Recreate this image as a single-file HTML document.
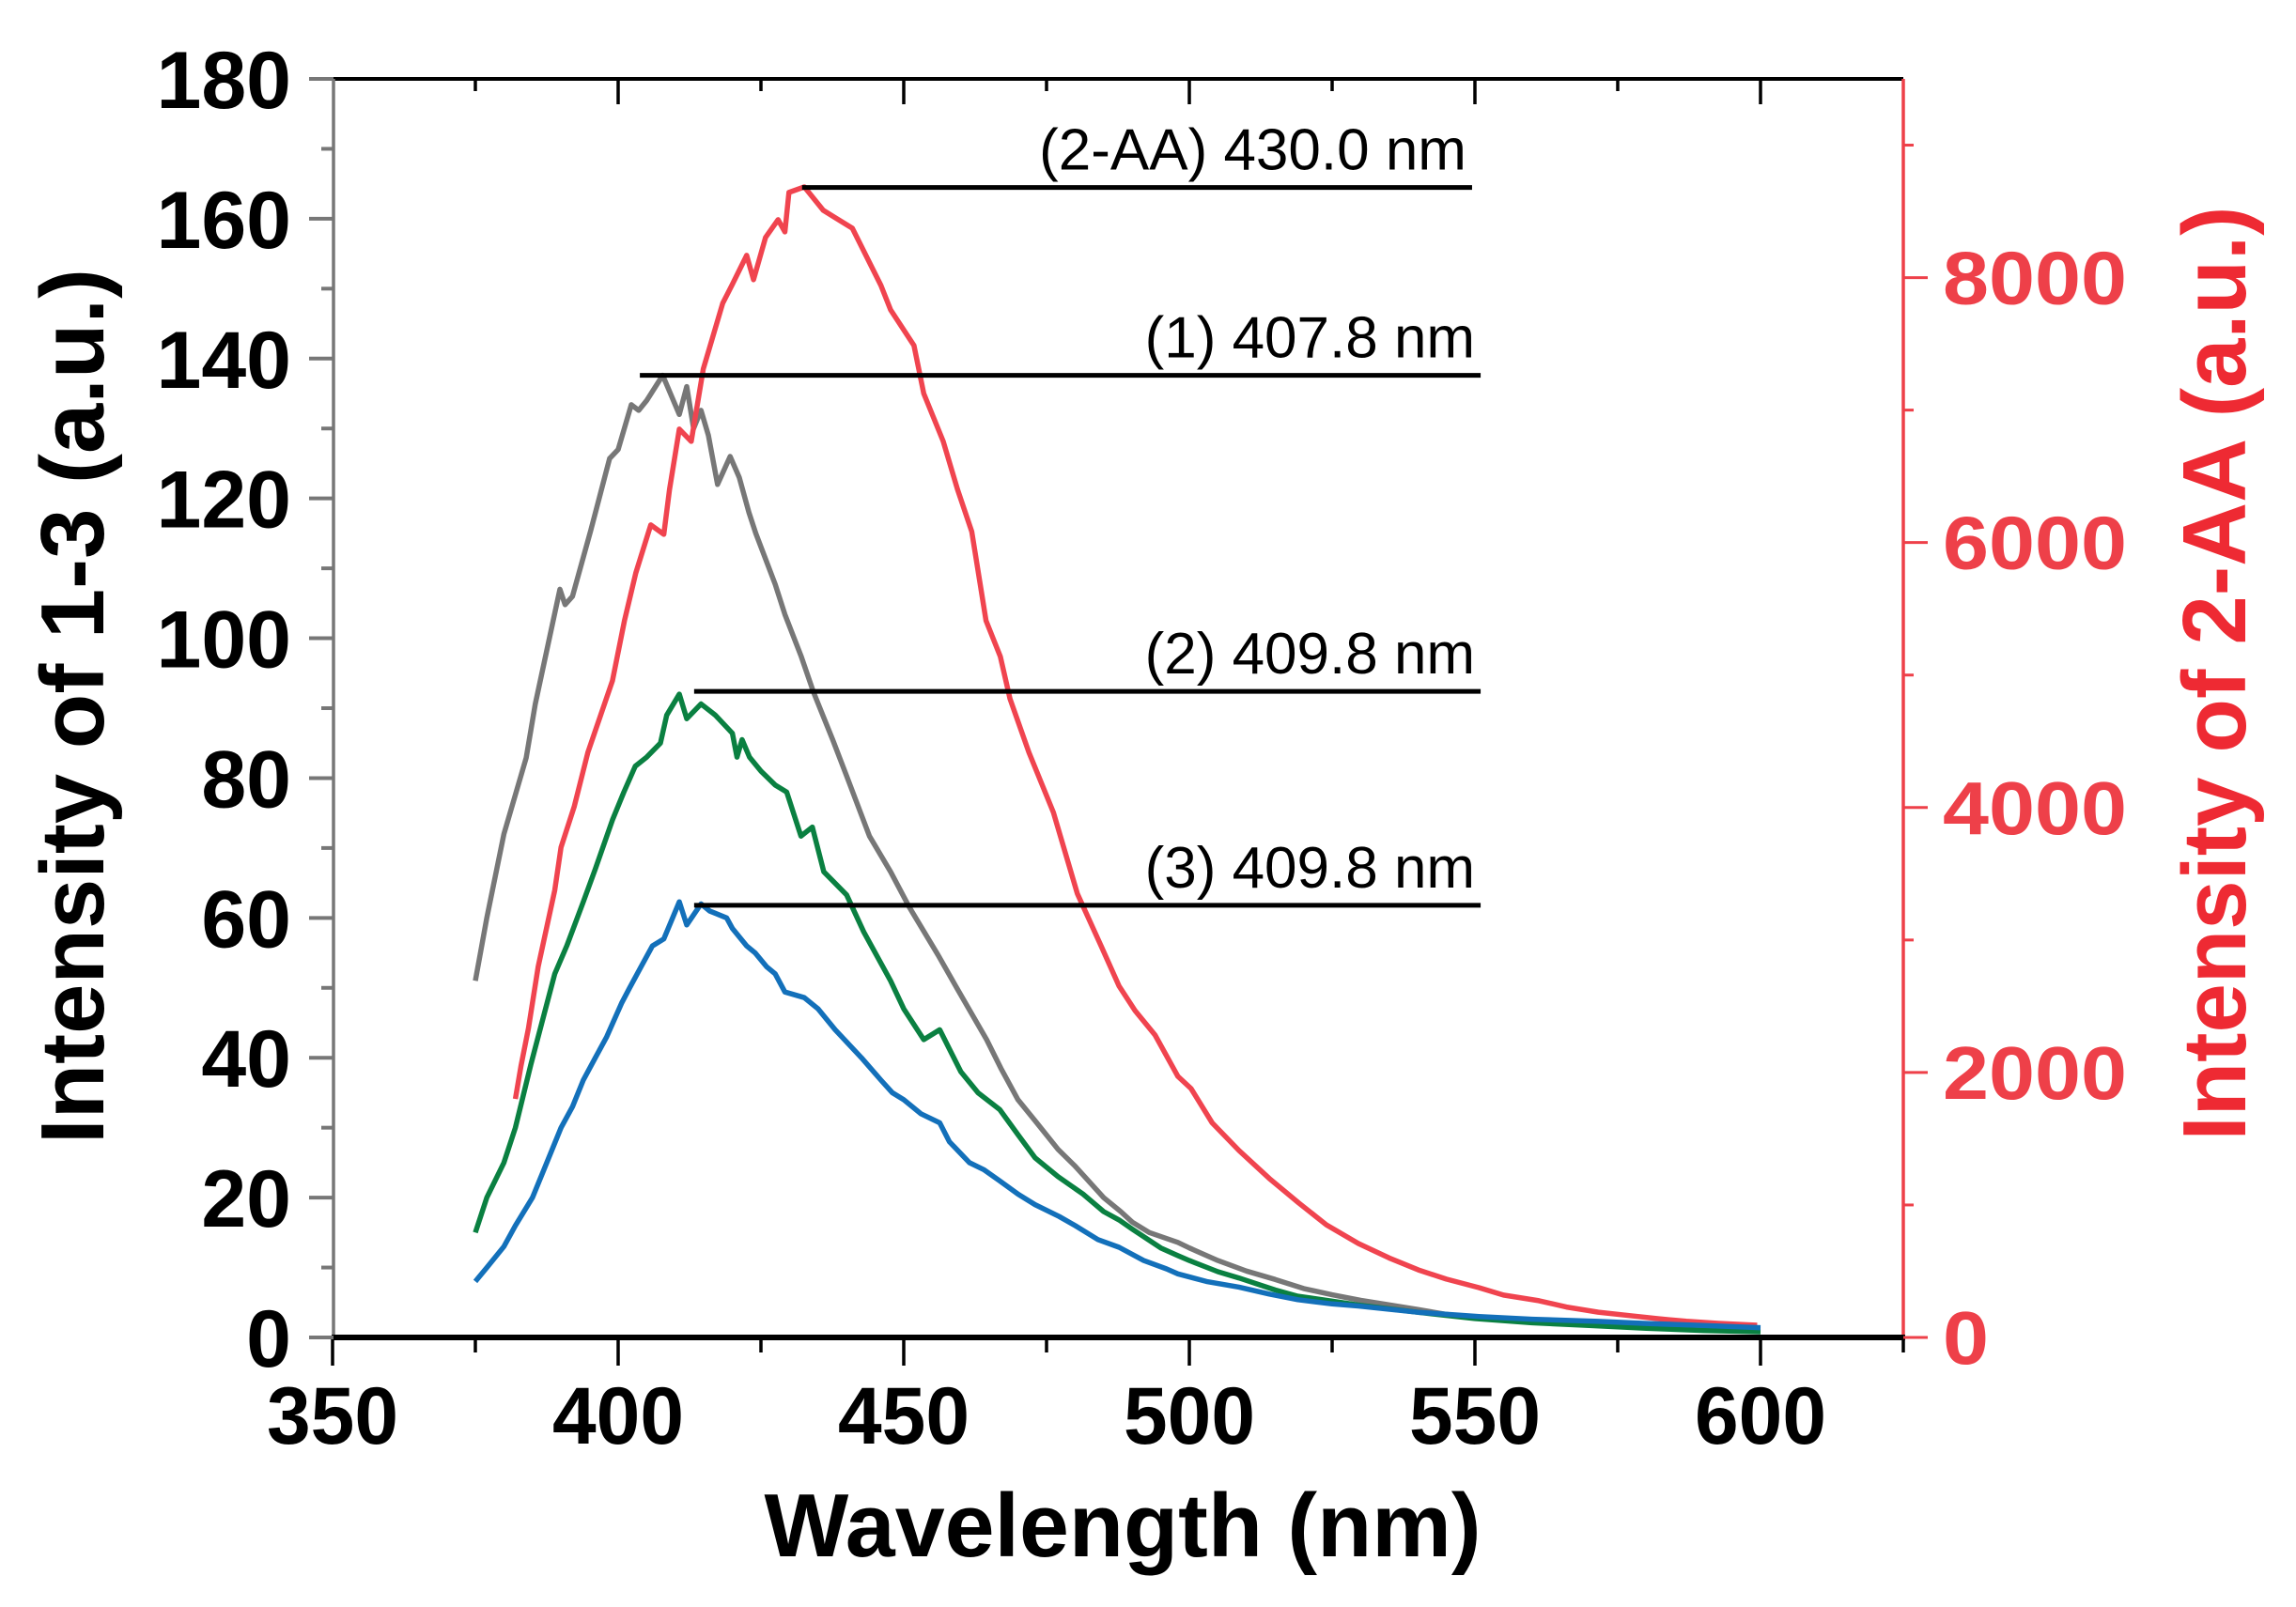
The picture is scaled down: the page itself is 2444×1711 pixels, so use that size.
<!DOCTYPE html>
<html><head><meta charset="utf-8"><style>
html,body{margin:0;padding:0;background:#fff;}
svg{display:block;}
text{font-family:"Liberation Sans",Arial,sans-serif;}
</style></head>
<body>
<svg id="chart" width="2444" height="1711" viewBox="0 0 2444 1711" xmlns="http://www.w3.org/2000/svg">
<g id="axes"></g>
<g id="series"></g>
<g id="annot"></g>
</svg>
<script>
// ---- data ----
const grayX = [375,377,380,383.9,385.5,389.8,390.7,392,395.2,398.5,400,402.3,403.6,405,407.8,410.7,412,413.2,414.5,415.8,417.4,419.6,421.2,422.9,424.1,427.5,429.2,432,434.2,437.6,440,444,447.7,451,456,459,464.5,467,470,473,477,480,485,488,490,493,498,500,505,510,515,520,525,530,540,545,550,560,570,580,590,600];
const grayY = [51,60,72,82.9,90.6,107,104.8,106,115.4,125.7,127,133.4,132.6,134,137.6,132,136,130,132.6,129,122,126,123,118,115,107.7,103.4,97.5,92.3,85.4,80.3,71.7,66.6,61.5,54.7,50.4,42.6,38.5,34,31,26.9,24.5,20,18,16.5,15,13.6,12.8,11,9.5,8.3,7,6.1,5.3,4,3.3,2.8,2.2,1.8,1.5,1.3,1.1];
const greenX = [375,377,380,382,384.7,388.9,391,393.9,396,399,401,403,405,407.4,408.5,410.7,412,414.5,417,420,420.8,421.7,423,425,427.5,429.5,432,434,436,440,443,447.7,450,453.5,456.3,460,463,466.8,470,473,477,481.4,485,487.7,490,495,498,500,505,508.7,515,519,525,530,540,550,560,570,580,590,600];
const greenY = [15,20,25,30,39,52,56,62.3,67,74,78,81.7,83,85,89,92,88.5,90.6,89,86.4,83,85.5,83,81,79,78,71.7,73,66.6,63.3,58,51,47,42.6,44,38,35,32.6,29,25.7,23,20.5,18,16.8,15.5,12.8,11.7,11,9.4,8.5,6.8,5.9,5.2,4.6,3.6,2.7,2.1,1.7,1.3,1.0,0.8];
const blueX = [375,377,380,382,385,387,390,392,393.9,396,398,400.6,402,404,406,408,410.7,412,414.5,416,419,420,422.5,424,426,427.5,429.2,432.6,435,438,442.6,446,448,450,453,456.3,458,461.5,464,466.8,470,473,477.2,480,484,487.7,492,496,498,503,508.7,514,519,525,529.6,540,550.7,560,571.6,580,590,600];
const blueY = [8,10,13,16,20,24,30,33,36.8,40,43,47.8,50,53,56,57,62.3,59,62,61,60,58.5,56,55,53,52,49.4,48.6,47,44,40,36.8,35,34,32,30.7,28,25,24,22.4,20.5,19,17.3,16,14,12.9,11,9.8,9.1,8,7.2,6.2,5.4,4.8,4.5,3.6,3.0,2.6,2.3,2.0,1.7,1.4];
const redX = [382,383,384.3,386,388.9,390,392.3,394.7,399,401.1,403.1,405.7,408,409,410.7,412.8,414.9,418.3,419.9,422.5,423.7,425.8,428,429.2,429.9,432.6,435.9,441,446,447.7,451.8,453.5,456.9,459.4,461.9,464.4,466.9,468.6,471.9,476.2,480.4,484.6,487.7,490.5,494,498,500.3,504,508.7,514,519.2,524,529.6,535,540.1,545,550.7,555,561.2,566,571.6,577,582,587,592.6,599.4];
const redY = [1800,2050,2333,2800,3375,3700,4006,4417,4956,5410,5771,6133,6062,6402,6856,6764,7310,7806,7941,8168,7984,8303,8437,8345,8643,8685,8508,8373,7941,7757,7487,7125,6764,6402,6083,5410,5140,4821,4417,3963,3350,2950,2652,2467,2283,1971,1879,1620,1411,1200,1014,850,709,600,510,440,376,320,277,230,191,165,142,122,106,92];
const xTicks = [350,400,450,500,550,600];
const yLeftTicks = [0,20,40,60,80,100,120,140,160,180];
const yRightTicks = [0,2000,4000,6000,8000];
const annLabels = ["(2-AA) 430.0 nm","(1) 407.8 nm","(2) 409.8 nm","(3) 409.8 nm"];
const annValues = [8680,137.6,92.4,61.8];
const annAxis = ["right","left","left","left"];
const annStart = [432.2,403.8,413.3,413.3];
const annEnd = [549.5,551,551,551];

// ---- scales ----
const X0=354, XW=304/50;
const sx = v => X0 + (v-350)*XW;
const syL = v => 1424 - v*(1340/180);
const syR = v => 1424 - v*(1340/9500);
const NS="http://www.w3.org/2000/svg";
function mk(parent, tag, attrs){const e=document.createElementNS(NS,tag);for(const k in attrs)e.setAttribute(k,attrs[k]);parent.appendChild(e);return e;}
const axes=document.getElementById('axes'), series=document.getElementById('series'), annot=document.getElementById('annot');
const RIGHT=sx(625), TOP=84, BOT=1424, LEFT=355;

let e=mk(axes,'line',{x1:LEFT,y1:TOP,x2:RIGHT,y2:TOP,stroke:'#000','stroke-width':4});


e=mk(axes,'line',{x1:LEFT,y1:TOP,x2:LEFT,y2:BOT,stroke:'#777','stroke-width':3.5});


e=mk(axes,'line',{x1:RIGHT,y1:TOP,x2:RIGHT,y2:BOT+3,stroke:'#EE4049','stroke-width':3.5});


e=mk(axes,'line',{x1:LEFT-2,y1:BOT,x2:RIGHT+2,y2:BOT,stroke:'#000','stroke-width':6});



for(let v=350; v<=625; v+=25){
  const major = (v%50===0);
  const len = major?27:13;
  e=mk(axes,'line',{x1:sx(v),y1:BOT,x2:sx(v),y2:BOT+len+3,stroke:'#000','stroke-width':3.5});
  
  
  if(v>350 && v<625){
    e=mk(axes,'line',{x1:sx(v),y1:TOP,x2:sx(v),y2:TOP+len,stroke:'#000','stroke-width':3.5});
    
    
  }
}
xTicks.forEach(v=>{
  e=mk(axes,'text',{x:sx(v),y:1537,'text-anchor':'middle','font-size':86,'font-weight':'bold',fill:'#000',textLength:140,lengthAdjust:'spacingAndGlyphs'});
  e.textContent=v;
  
  
});
for(let v=0; v<=180; v+=10){
  const major=(v%20===0);
  e=mk(axes,'line',{x1:LEFT-(major?26:13),y1:syL(v),x2:LEFT,y2:syL(v),stroke:'#777','stroke-width':4});
  
  
}
yLeftTicks.forEach(v=>{
  e=mk(axes,'text',{x:310,y:syL(v)+31,'text-anchor':'end','font-size':86,'font-weight':'bold',fill:'#000'});
  e.textContent=v;
  
  
});
for(let v=0; v<=9000; v+=1000){
  const major=(v%2000===0);
  e=mk(axes,'line',{x1:RIGHT,y1:syR(v),x2:RIGHT+(major?26:11),y2:syR(v),stroke:'#EE4049','stroke-width':3});
  
  
}
yRightTicks.forEach(v=>{
  const s=String(v);
  e=mk(axes,'text',{x:2068,y:syR(v)+28,'text-anchor':'start','font-size':80,'font-weight':'bold',fill:'#EE4049',textLength:s.length*49,lengthAdjust:'spacingAndGlyphs'});
  e.textContent=s;
  
  
});
e=mk(axes,'text',{x:1195,y:1657,'text-anchor':'middle','font-size':96,'font-weight':'bold',fill:'#000',textLength:763,lengthAdjust:'spacingAndGlyphs'});
e.textContent='Wavelength (nm)';


e=mk(axes,'text',{x:0,y:0,'text-anchor':'middle','font-size':96,'font-weight':'bold',fill:'#000',textLength:932,lengthAdjust:'spacingAndGlyphs',transform:'translate(110,752) rotate(-90)'});
e.textContent='Intensity of 1-3 (a.u.)';


e=mk(axes,'text',{x:0,y:0,'text-anchor':'middle','font-size':96,'font-weight':'bold',fill:'#EE2A33',textLength:995,lengthAdjust:'spacingAndGlyphs',transform:'translate(2390,717) rotate(-90)'});
e.textContent='Intensity of 2-AA (a.u.)';



function path(xs,ys,sy){return xs.map((x,i)=>(i?'L':'M')+sx(x).toFixed(1)+','+sy(ys[i]).toFixed(1)).join(' ');}
e=mk(series,'path',{d:path(grayX,grayY,syL),fill:'none',stroke:'#777777','stroke-width':5.5,'stroke-linejoin':'round'});


e=mk(series,'path',{d:path(redX,redY,syR),fill:'none',stroke:'#F0444F','stroke-width':5.5,'stroke-linejoin':'round'});


e=mk(series,'path',{d:path(greenX,greenY,syL),fill:'none',stroke:'#0A8041','stroke-width':5.5,'stroke-linejoin':'round'});


e=mk(series,'path',{d:path(blueX,blueY,syL),fill:'none',stroke:'#1370BA','stroke-width':5.5,'stroke-linejoin':'round'});



annLabels.forEach((t,i)=>{
  const y = annAxis[i]==='right'? syR(annValues[i]) : syL(annValues[i]);
  e=mk(annot,'line',{x1:sx(annStart[i]),y1:y,x2:sx(annEnd[i]),y2:y,stroke:'#000','stroke-width':5});
  
  
  e=mk(annot,'text',{x:sx(annEnd[i])-6,y:y-19,'text-anchor':'end','font-size':62,fill:'#000'});
  e.textContent=t;
  
  
});
</script>
</body></html>
